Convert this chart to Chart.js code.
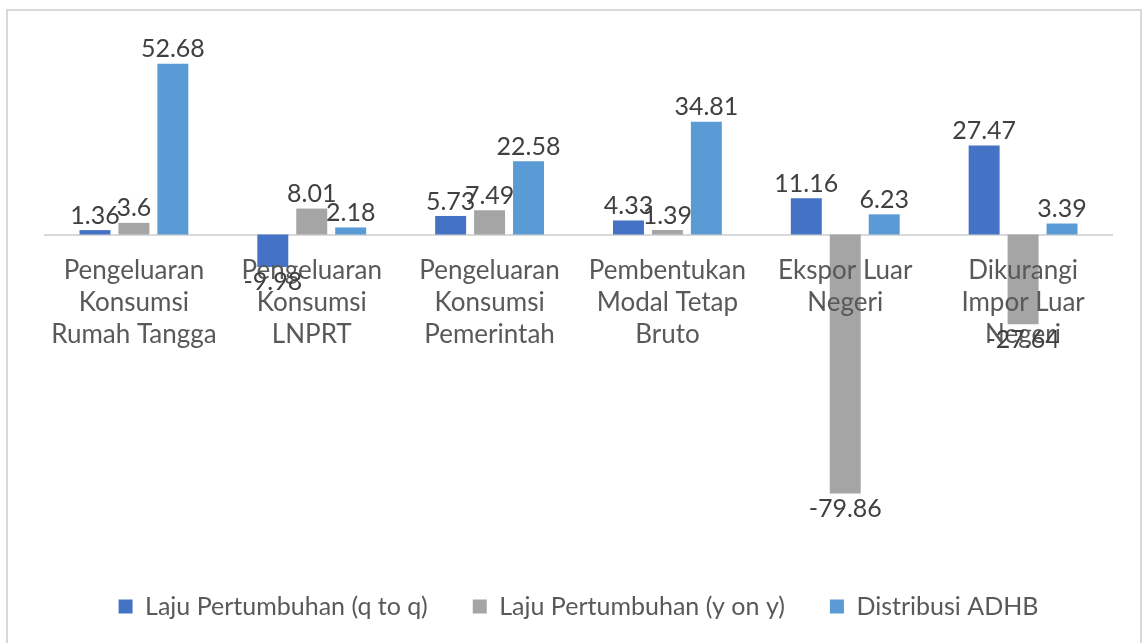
<!DOCTYPE html>
<html>
<head>
<meta charset="utf-8">
<script src="https://cdn.jsdelivr.net/npm/chart.js@4"></script>
<style>
  html, body { margin: 0; padding: 0; background: #fff; overflow: hidden; }
  #frame {
    position: absolute; left: 6px; top: 9px; width: 1136px; height: 680px;
    border: 2px solid #d9d9d9; box-sizing: border-box;
  }
  #chart { position: absolute; left: 0; top: 0; }
</style>
</head>
<body>
<div id="frame"></div>
<canvas id="chart" width="1146" height="643"></canvas>
<script>
// ---------- Data ----------
const categories = [
  ["Pengeluaran", "Konsumsi", "Rumah Tangga"],
  ["Pengeluaran", "Konsumsi", "LNPRT"],
  ["Pengeluaran", "Konsumsi", "Pemerintah"],
  ["Pembentukan", "Modal Tetap", "Bruto"],
  ["Ekspor Luar", "Negeri"],
  ["Dikurangi", "Impor Luar", "Negeri"]
];
const seriesNames = ["Laju Pertumbuhan (q to q)", "Laju Pertumbuhan (y on y)", "Distribusi ADHB"];
const qtoq = [1.36, -9.98, 5.73, 4.33, 11.16, 27.47];
const yony = [3.6, 8.01, 7.49, 1.39, -79.86, -27.64];
const adhb = [52.68, 2.18, 22.58, 34.81, 6.23, 3.39];
const colors = ["#4472C4", "#A5A5A5", "#5B9BD5"];

const FONT = "Lato, 'Open Sans', sans-serif";

// ---------- Value labels at bar ends ----------
const valueLabels = {
  id: "valueLabels",
  afterDraw(chart) {
    const ctx = chart.ctx;
    ctx.save();
    ctx.font = "25px " + FONT;
    ctx.fillStyle = "#404040";
    ctx.textAlign = "center";
    chart.data.datasets.forEach((ds, i) => {
      chart.getDatasetMeta(i).data.forEach((bar, j) => {
        const v = ds.data[j];
        if (v >= 0) {
          ctx.textBaseline = "bottom";
          ctx.fillText(String(v), bar.x, bar.y - 2);
        } else {
          ctx.textBaseline = "top";
          ctx.fillText(String(v), bar.x, bar.y + 3);
        }
      });
    });
    ctx.restore();
  }
};

new Chart(document.getElementById("chart"), {
  type: "bar",
  data: {
    labels: categories,
    datasets: [qtoq, yony, adhb].map((d, i) => ({
      label: seriesNames[i],
      data: d,
      backgroundColor: colors[i],
      categoryPercentage: 0.657,
      barPercentage: 0.795
    }))
  },
  options: {
    responsive: false,
    animation: false,
    layout: { padding: { left: 45, right: 34, top: 40, bottom: 14 } },
    plugins: {
      tooltip: { enabled: false },
      legend: {
        position: "bottom",
        labels: {
          boxWidth: 14, boxHeight: 14, padding: 45,
          color: "#595959",
          font: { family: FONT, size: 25 }
        }
      }
    },
    scales: {
      x: {
        position: { y: 0 },
        grid: { display: false, drawTicks: false },
        border: { color: "#d9d9d9", width: 2 },
        ticks: {
          z: 1,
          color: "#595959",
          padding: 20,
          autoSkip: false,
          maxRotation: 0,
          font: { family: FONT, size: 26, lineHeight: 1.23 }
        }
      },
      y: {
        display: false,
        min: -97,
        max: 60
      }
    }
  },
  plugins: [valueLabels]
});
</script>
</body>
</html>
